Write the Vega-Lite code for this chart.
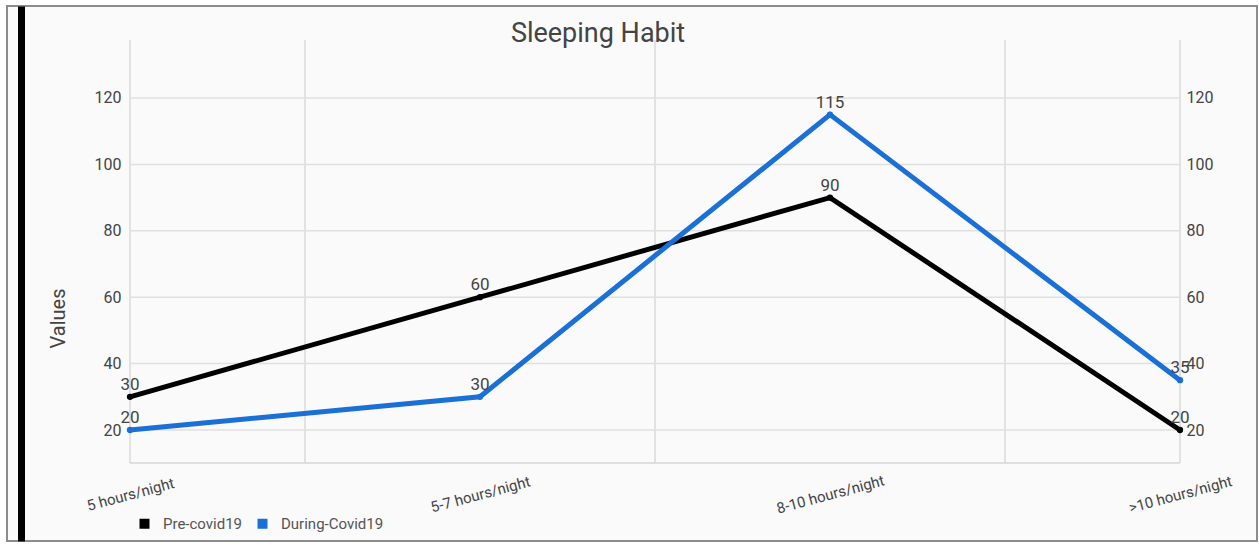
{
  "$schema": "https://vega.github.io/schema/vega-lite/v6.json",
  "width": 1250,
  "height": 535,
  "autosize": {"type": "none"},
  "padding": {"left": 7, "top": 6, "right": 2, "bottom": 7},
  "background": "#ffffff",
  "title": {
    "text": "Sleeping Habit",
    "offset": -63,
    "dx": -34,
    "baseline": "alphabetic",
    "fontSize": 27,
    "fontWeight": "normal",
    "color": "#444444",
    "font": "Roboto"
  },
  "config": {
    "font": "Roboto",
    "view": {"fill": "#fafafa", "stroke": "#8c8c8c", "strokeWidth": 2},
    "axisX": {
      "values": [0, 1, 2, 3],
      "labelExpr": "['5 hours/night','5-7 hours/night','8-10 hours/night','>10 hours/night'][datum.value]",
      "domain": false, "ticks": false, "tickSize": 0, "grid": false,
      "labelAngle": 345, "labelAlign": "center", "labelBaseline": "middle",
      "labelPadding": -47, "labelFontSize": 15, "labelColor": "#444444",
      "labelOverlap": false, "labelFlush": false, "labelBound": false
    }
  },
  "datasets": {
    "habits": [
      {"sleep": "5 hours/night", "idx": 0, "series": "Pre-covid19", "value": 30},
      {"sleep": "5-7 hours/night", "idx": 1, "series": "Pre-covid19", "value": 60},
      {"sleep": "8-10 hours/night", "idx": 2, "series": "Pre-covid19", "value": 90},
      {"sleep": ">10 hours/night", "idx": 3, "series": "Pre-covid19", "value": 20},
      {"sleep": "5 hours/night", "idx": 0, "series": "During-Covid19", "value": 20},
      {"sleep": "5-7 hours/night", "idx": 1, "series": "During-Covid19", "value": 30},
      {"sleep": "8-10 hours/night", "idx": 2, "series": "During-Covid19", "value": 115},
      {"sleep": ">10 hours/night", "idx": 3, "series": "During-Covid19", "value": 35}
    ],
    "hgrid": [{"gy": 20}, {"gy": 40}, {"gy": 60}, {"gy": 80}, {"gy": 100}, {"gy": 120}],
    "vgrid": [{"gx": 0}, {"gx": 0.5}, {"gx": 1.5}, {"gx": 2.5}, {"gx": 3}]
  },
  "resolve": {"axis": {"y": "independent"}},
  "layer": [
    {
      "data": {"name": "vgrid"},
      "mark": {"type": "rule", "color": "#dadada", "strokeWidth": 1.5},
      "encoding": {
        "x": {"field": "gx", "type": "quantitative", "scale": {"domain": [-0.3514, 3.22], "nice": false, "zero": false}, "axis": {"title": null}},
        "y": {"datum": 10.06, "type": "quantitative", "scale": {"domain": [-13.43, 147.71], "nice": false, "zero": false}, "axis": null},
        "y2": {"datum": 137.47}
      }
    },
    {
      "data": {"name": "hgrid"},
      "mark": {"type": "rule", "color": "#e0e0e0", "strokeWidth": 1.5},
      "encoding": {
        "y": {
          "field": "gy", "type": "quantitative",
          "scale": {"domain": [-13.43, 147.71], "nice": false, "zero": false},
          "axis": {
            "orient": "right", "domain": false, "ticks": false, "tickSize": 0, "grid": false,
            "values": [20, 40, 60, 80, 100, 120], "labelPadding": -71,
            "labelFontSize": 16, "labelColor": "#444444", "title": null
          }
        },
        "x": {"datum": 0, "type": "quantitative", "scale": {"domain": [-0.3514, 3.22], "nice": false, "zero": false}},
        "x2": {"datum": 3}
      }
    },
    {
      "data": {"values": [{}]},
      "mark": {"type": "rule", "color": "#d6d6d6", "strokeWidth": 1.5},
      "encoding": {
        "y": {"datum": 10.06, "type": "quantitative", "scale": {"domain": [-13.43, 147.71], "nice": false, "zero": false}, "axis": null},
        "x": {"datum": 0, "type": "quantitative", "scale": {"domain": [-0.3514, 3.22], "nice": false, "zero": false}},
        "x2": {"datum": 3}
      }
    },
    {
      "data": {"name": "habits"},
      "mark": {"type": "line", "strokeWidth": 5, "point": {"size": 40, "filled": true}},
      "encoding": {
        "x": {
          "field": "idx", "type": "quantitative",
          "scale": {"domain": [-0.3514, 3.22], "nice": false, "zero": false},
          "axis": {"title": null}
        },
        "y": {
          "field": "value", "type": "quantitative",
          "scale": {"domain": [-13.43, 147.71], "nice": false, "zero": false},
          "axis": {
            "orient": "left", "offset": -14, "domain": true, "domainColor": "#000000", "domainWidth": 7,
            "ticks": false, "tickSize": 0, "grid": false,
            "values": [20, 40, 60, 80, 100, 120], "labelPadding": -100,
            "labelFontSize": 16, "labelColor": "#444444",
            "title": "Values", "titleFontSize": 20, "titleFontWeight": "normal", "titleColor": "#444444",
            "titleX": 37, "titleY": 312, "titleAlign": "center", "titleBaseline": "middle", "titleAngle": -90
          }
        },
        "color": {
          "field": "series", "type": "nominal",
          "scale": {"domain": ["Pre-covid19", "During-Covid19"], "range": ["#000000", "#1a70d6"]},
          "legend": {
            "orient": "none", "legendX": 130, "legendY": 510, "direction": "horizontal",
            "title": null, "symbolType": "square", "symbolSize": 100, "symbolStrokeWidth": 0,
            "labelFontSize": 15, "labelColor": "#555555", "columnPadding": 12, "labelOffset": 11, "padding": 0
          }
        },
        "order": {"field": "idx", "type": "quantitative"}
      }
    },
    {
      "data": {"name": "habits"},
      "mark": {"type": "text", "dy": -12, "fontSize": 17, "color": "#444444", "baseline": "middle"},
      "encoding": {
        "x": {"field": "idx", "type": "quantitative", "scale": {"domain": [-0.3514, 3.22], "nice": false, "zero": false}},
        "y": {"field": "value", "type": "quantitative", "scale": {"domain": [-13.43, 147.71], "nice": false, "zero": false}, "axis": null},
        "text": {"field": "value", "type": "quantitative"}
      }
    }
  ]
}
